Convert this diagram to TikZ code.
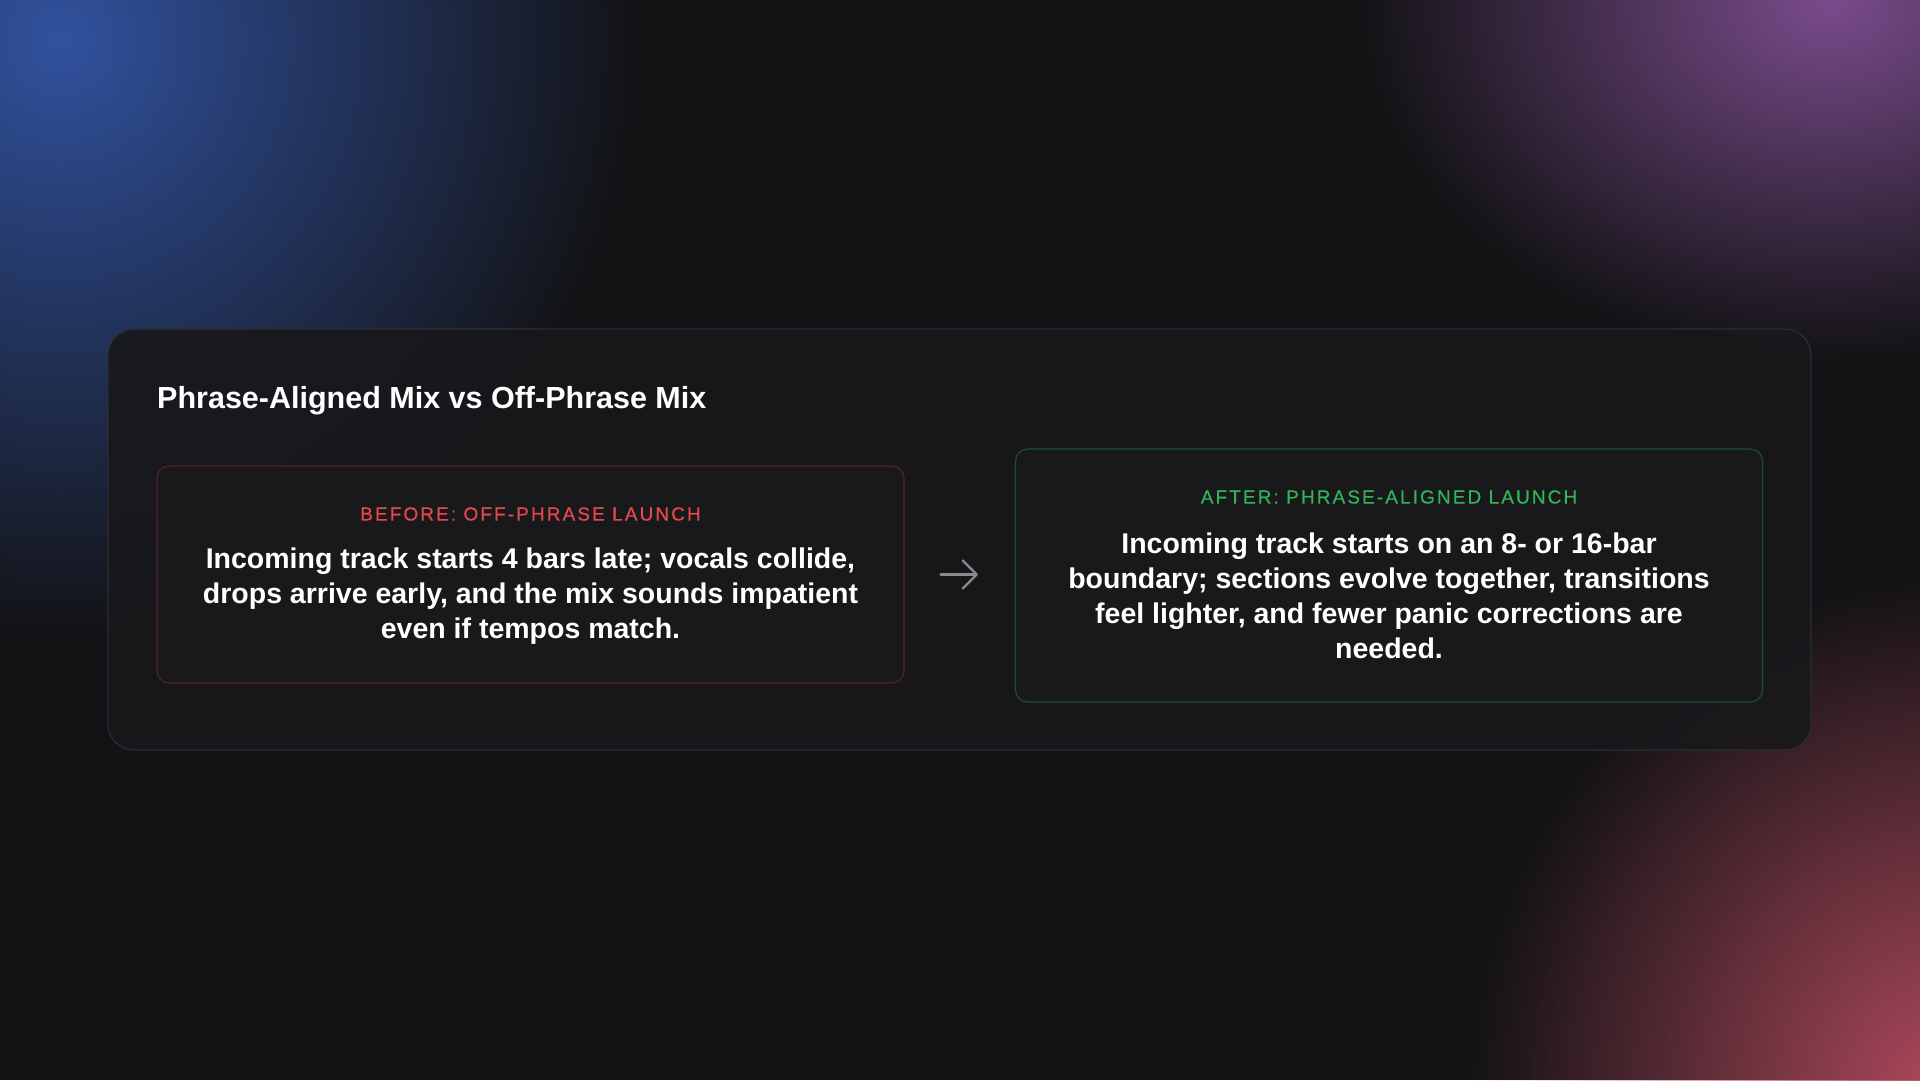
\documentclass[tikz,border=0pt]{standalone}
\usepackage{fontspec}
\setmainfont{Liberation Sans}
\newfontfamily\bodyfont{Liberation Sans Bold}
\newfontfamily\tagfont[LetterSpace=11,FakeBold=0.5]{Liberation Sans}
\usepackage{tikz}
\usetikzlibrary{arrows.meta,fadings,positioning}
\definecolor{bgdark}{HTML}{131315}
\definecolor{panelfill}{HTML}{18181B}
\definecolor{panelline}{HTML}{2E2C35}
\definecolor{boxfill}{HTML}{19191C}
\definecolor{redtag}{HTML}{E5484D}
\definecolor{redline}{HTML}{4F2329}
\definecolor{greentag}{HTML}{2FB457}
\definecolor{greenline}{HTML}{1F4F30}
\definecolor{arrowgray}{HTML}{8A8A8E}
\definecolor{glowblue}{HTML}{31529E}
\definecolor{glowpurple}{HTML}{7A4C8C}
\definecolor{glowred}{HTML}{B24A5E}
\tikzfading[name=glow, inner color=transparent!0, outer color=transparent!100]

\begin{document}
\begin{tikzpicture}[x=1pt,y=-1pt,
  box/.style={draw, line width=1.2pt, rounded corners=12pt, fill=boxfill,
    minimum width=747pt, inner sep=0pt},
  tag/.style={font=\tagfont\fontsize{19}{22}\selectfont},
  body/.style={text=white, align=center, font=\bodyfont\fontsize{28.5}{35}\selectfont},
  flow/.style={arrowgray, line width=2.4pt, line cap=round,
    -{Straight Barb[length=14pt,width=28pt,line cap=round,line join=round]}}]
\useasboundingbox (0,0) rectangle (1920,1080);
\fill[bgdark] (0,0) rectangle (1920,1080);
% background glows
\fill[glowblue, path fading=glow] (60,40) ellipse (580 and 600);
\fill[glowpurple, path fading=glow] (1830,0) ellipse (470 and 360);
\fill[glowred, path fading=glow] (1950,1100) ellipse (480 and 520);
% main panel
\draw[panelline, line width=1.2pt, fill=panelfill, fill opacity=0.9, rounded corners=26pt]
  (108,329) rectangle (1811,750);
\node[anchor=base west, text=white, font=\bodyfont\fontsize{30.5}{36}\selectfont, inner sep=0pt]
  (title) at (157,408) {Phrase-Aligned Mix vs Off-Phrase Mix};
% before / after cards
\node[box, draw=redline, minimum height=217pt] (before) at (530.5,574.5) {};
\node[box, draw=greenline, minimum height=253pt] (after) at (1389,575.5) {};
\node[tag, text=redtag] (beforetag) at (530.5,514) {BEFORE: OFF-PHRASE LAUNCH};
\node[body] (beforetext) at (530.5,596) {Incoming track starts 4 bars late; vocals collide,\\
  drops arrive early, and the mix sounds impatient\\ even if tempos match.};
\node[tag, text=greentag] (aftertag) at (1389,497) {AFTER: PHRASE-ALIGNED LAUNCH};
\node[body] (aftertext) at (1389,596) {Incoming track starts on an 8- or 16-bar\\
  boundary; sections evolve together, transitions\\ feel lighter, and fewer panic corrections are\\ needed.};
\draw[flow, shorten <=36pt, shorten >=37pt] (before.east) -- (before.east -| after.west);
\end{tikzpicture}
\end{document}
